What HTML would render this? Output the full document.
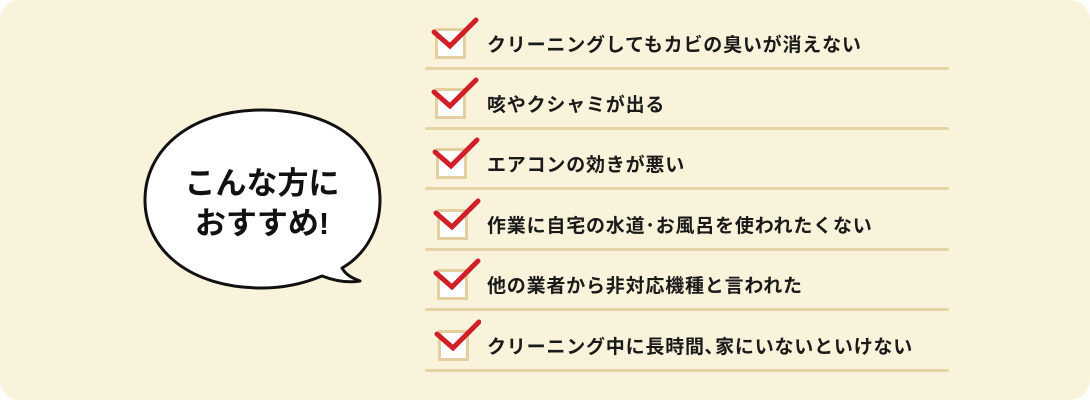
<!DOCTYPE html>
<html><head><meta charset="utf-8"><style>
body{margin:0;width:1090px;height:400px;background:#fff;overflow:hidden;font-family:"Liberation Sans","Noto Sans CJK JP",sans-serif;}
.bg{position:absolute;left:0;top:0;width:1090px;height:400px;background:#faf3dc;border-radius:20px;}
.row{position:absolute;left:425px;width:524px;height:60px;}
.line{position:absolute;left:0;right:0;bottom:0;height:3px;background:#e6d3a6;border-radius:2px;}
.t{position:absolute;left:62px;top:23px;font-size:19px;font-weight:bold;letter-spacing:0.8px;color:#1a1a1a;white-space:nowrap;line-height:26px;}
svg.c{position:absolute;left:6px;top:0px;}
.bt{position:absolute;left:142px;width:240px;text-align:center;font-size:31px;font-weight:bold;color:#111;line-height:40px;}
</style></head><body>
<div class="bg"></div>
<svg style="position:absolute;left:0;top:0" width="1090" height="400">
<path d="M262 110 C 340 110 380 150 380 200 C 380 235 360 258 342 268 C 346 275 352 278 360 281 C 348 283 335 281 322 276 C 305 283 285 288 262 288 C 190 288 145 250 145 200 C 145 150 190 110 262 110 Z" fill="#fff" stroke="#111" stroke-width="3" stroke-linejoin="round"/>
</svg>
<div class="bt" style="top:164px">こんな方に</div>
<div class="bt" style="top:204px">おすすめ!</div>

<div class="row" style="top:10px"><svg class="c" width="50" height="50"><rect x="5.5" y="19.5" width="28" height="28" fill="#fff" stroke="#e3cf9f" stroke-width="3"/><path d="M3 22 L19 36 L45 10" fill="none" stroke="#d01f27" stroke-width="5" stroke-linecap="round"/></svg><div class="t">クリーニングしてもカビの臭いが消えない</div><div class="line"></div></div>
<div class="row" style="top:70px"><svg class="c" width="50" height="50"><rect x="5.5" y="19.5" width="28" height="28" fill="#fff" stroke="#e3cf9f" stroke-width="3"/><path d="M3 22 L19 36 L45 10" fill="none" stroke="#d01f27" stroke-width="5" stroke-linecap="round"/></svg><div class="t">咳やクシャミが出る</div><div class="line"></div></div>
<div class="row" style="top:130px"><svg class="c" width="50" height="50"><rect x="6.5" y="19.5" width="28" height="28" fill="#fff" stroke="#e3cf9f" stroke-width="3"/><path d="M4 22 L20 36 L46 10" fill="none" stroke="#d01f27" stroke-width="5" stroke-linecap="round"/></svg><div class="t">エアコンの効きが悪い</div><div class="line"></div></div>
<div class="row" style="top:191px"><svg class="c" width="50" height="50"><rect x="7.5" y="19.5" width="28" height="28" fill="#fff" stroke="#e3cf9f" stroke-width="3"/><path d="M5 22 L21 36 L47 10" fill="none" stroke="#d01f27" stroke-width="5" stroke-linecap="round"/></svg><div class="t">作業に自宅の水道･お風呂を使われたくない</div><div class="line"></div></div>
<div class="row" style="top:251px"><svg class="c" width="50" height="50"><rect x="7.5" y="19.5" width="28" height="28" fill="#fff" stroke="#e3cf9f" stroke-width="3"/><path d="M5 22 L21 36 L47 10" fill="none" stroke="#d01f27" stroke-width="5" stroke-linecap="round"/></svg><div class="t">他の業者から非対応機種と言われた</div><div class="line"></div></div>
<div class="row" style="top:312px"><svg class="c" width="50" height="50"><rect x="8.5" y="19.5" width="28" height="28" fill="#fff" stroke="#e3cf9f" stroke-width="3"/><path d="M6 22 L22 36 L48 10" fill="none" stroke="#d01f27" stroke-width="5" stroke-linecap="round"/></svg><div class="t">クリーニング中に長時間､家にいないといけない</div><div class="line"></div></div>
</body></html>
